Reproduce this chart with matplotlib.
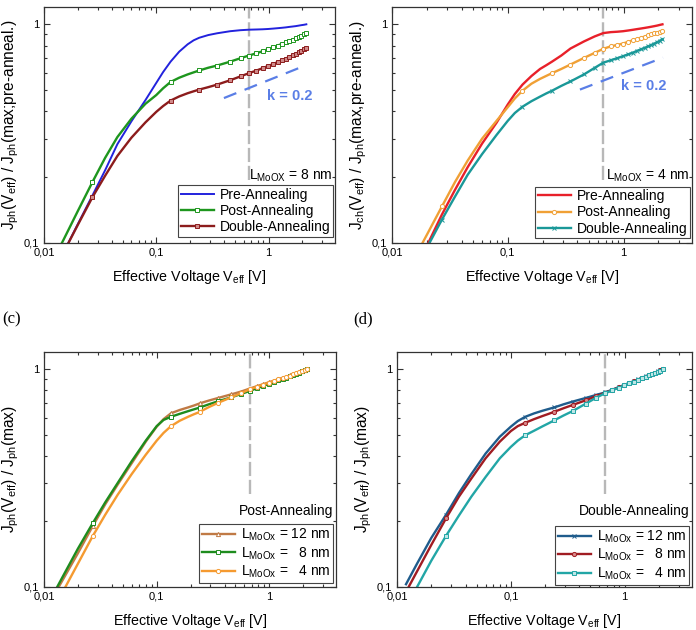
import matplotlib
matplotlib.use("Agg")
import matplotlib.pyplot as plt
from matplotlib.ticker import FixedLocator, FixedFormatter, LogLocator, NullFormatter

plt.rcParams['font.family'] = ['Liberation Sans', 'DejaVu Sans']
plt.rcParams['mathtext.fontset'] = 'custom'
plt.rcParams['mathtext.rm'] = 'Liberation Sans'
plt.rcParams['mathtext.it'] = 'Liberation Sans:italic'

# effective voltage grid (V), markers sit on the measured steps
v_eff = [0.012, 0.015, 0.02, 0.027, 0.035, 0.045, 0.06, 0.08, 0.1, 0.115,
         0.134, 0.16, 0.19, 0.215, 0.241, 0.29, 0.348, 0.455, 0.562, 0.669,
         0.776, 0.883, 0.99, 1.097, 1.204, 1.311, 1.418, 1.525, 1.632, 1.739,
         1.846, 1.953, 2.06, 2.167]
mark_idx = [3, 10, 14] + list(range(16, 34))

# (a) L_MoOx = 8 nm
a_pre = [0.072, 0.091, 0.122, 0.165, 0.215, 0.283, 0.36, 0.45, 0.54, 0.605,
         0.675, 0.75, 0.81, 0.845, 0.868, 0.893, 0.91, 0.93, 0.94, 0.945,
         0.947, 0.949, 0.952, 0.956, 0.96, 0.964, 0.968, 0.973, 0.977, 0.981,
         0.986, 0.991, 0.995, 1.0]
a_post = [0.083, 0.104, 0.14, 0.19, 0.245, 0.305, 0.37, 0.433, 0.475, 0.51,
          0.545, 0.57, 0.59, 0.603, 0.615, 0.633, 0.648, 0.675, 0.70, 0.72,
          0.737, 0.753, 0.77, 0.785, 0.80, 0.813, 0.826, 0.838, 0.85, 0.862,
          0.875, 0.888, 0.90, 0.912]
a_double = [0.072, 0.091, 0.121, 0.162, 0.203, 0.25, 0.303, 0.356, 0.398, 0.423,
            0.448, 0.468, 0.484, 0.494, 0.503, 0.516, 0.53, 0.555, 0.578, 0.598,
            0.614, 0.63, 0.645, 0.658, 0.672, 0.685, 0.697, 0.709, 0.721, 0.733,
            0.745, 0.757, 0.768, 0.78]

# (b) L_MoOx = 4 nm
b_pre = [0.056, 0.071, 0.097, 0.135, 0.175, 0.222, 0.285, 0.355, 0.43, 0.48,
         0.53, 0.58, 0.625, 0.65, 0.675, 0.72, 0.775, 0.835, 0.88, 0.912,
         0.921, 0.925, 0.93, 0.937, 0.944, 0.951, 0.957, 0.963, 0.969, 0.975,
         0.981, 0.987, 0.994, 1.0]
b_post = [0.066, 0.082, 0.109, 0.147, 0.19, 0.238, 0.30, 0.362, 0.418, 0.458,
          0.497, 0.535, 0.563, 0.581, 0.598, 0.625, 0.655, 0.702, 0.74, 0.773,
          0.793, 0.805, 0.817, 0.832, 0.845, 0.857, 0.868, 0.879, 0.889, 0.899,
          0.908, 0.917, 0.926, 0.935]
b_double = [0.056, 0.071, 0.095, 0.128, 0.163, 0.205, 0.255, 0.312, 0.362, 0.393,
            0.42, 0.445, 0.467, 0.483, 0.497, 0.523, 0.548, 0.59, 0.632, 0.668,
            0.685, 0.70, 0.715, 0.729, 0.742, 0.757, 0.769, 0.781, 0.793, 0.805,
            0.817, 0.829, 0.841, 0.853]

# (c) post-annealing, normalised
c_12nm = [0.09, 0.11, 0.143, 0.19, 0.24, 0.295, 0.37, 0.465, 0.545, 0.59,
          0.628, 0.65, 0.668, 0.682, 0.697, 0.718, 0.737, 0.766, 0.79, 0.815,
          0.836, 0.854, 0.871, 0.886, 0.90, 0.913, 0.925, 0.937, 0.948, 0.958,
          0.968, 0.979, 0.99, 1.0]
c_8nm = [0.092, 0.114, 0.15, 0.196, 0.245, 0.30, 0.378, 0.47, 0.548, 0.585,
         0.605, 0.624, 0.642, 0.655, 0.667, 0.69, 0.712, 0.742, 0.77, 0.795,
         0.818, 0.838, 0.857, 0.873, 0.888, 0.902, 0.916, 0.929, 0.941, 0.953,
         0.965, 0.977, 0.989, 1.0]
c_4nm = [0.078, 0.097, 0.128, 0.171, 0.215, 0.265, 0.33, 0.405, 0.47, 0.51,
         0.548, 0.58, 0.605, 0.622, 0.637, 0.67, 0.70, 0.742, 0.777, 0.808,
         0.831, 0.851, 0.868, 0.884, 0.898, 0.911, 0.923, 0.935, 0.946, 0.957,
         0.968, 0.979, 0.99, 1.0]

# (d) double-annealing, normalised
d_12nm = [0.103, 0.128, 0.168, 0.215, 0.27, 0.33, 0.41, 0.49, 0.545, 0.578,
          0.605, 0.627, 0.645, 0.657, 0.668, 0.69, 0.71, 0.738, 0.762, 0.782,
          0.805, 0.827, 0.847, 0.865, 0.882, 0.898, 0.913, 0.928, 0.941, 0.953,
          0.966, 0.977, 0.988, 1.0]
d_8nm = [0.095, 0.118, 0.156, 0.207, 0.26, 0.315, 0.39, 0.465, 0.52, 0.548,
         0.568, 0.59, 0.61, 0.624, 0.638, 0.662, 0.685, 0.72, 0.752, 0.778,
         0.803, 0.825, 0.845, 0.863, 0.88, 0.896, 0.911, 0.926, 0.939, 0.951,
         0.964, 0.975, 0.987, 1.0]
d_4nm = [0.08, 0.10, 0.132, 0.172, 0.213, 0.26, 0.32, 0.39, 0.44, 0.47,
         0.498, 0.522, 0.547, 0.565, 0.583, 0.613, 0.642, 0.695, 0.74, 0.775,
         0.80, 0.822, 0.843, 0.861, 0.878, 0.894, 0.909, 0.924, 0.937, 0.95,
         0.963, 0.974, 0.986, 1.0]

# slope guide k = 0.2 and the gray marker voltage
k_a_x, k_a_y = [0.40, 2.15], [0.46, 0.65]
k_b_x, k_b_y = [0.42, 2.19], [0.503, 0.704]
v_line = 0.67

x_ticks = [0.01, 0.1, 1]
x_labels = ['0,01', '0,1', '1']
y_ticks = [0.1, 1]
y_labels = ['0,1', '1']

fig = plt.figure(figsize=(6.96, 6.3), dpi=100)
W, H = 696.0, 630.0


def make_ax(l, r, t, b):
    ax = fig.add_axes([l / W, 1 - b / H, (r - l) / W, (b - t) / H])
    ax.set_xscale('log')
    ax.set_yscale('log')
    ax.set_xlim(0.01, 3.9)
    ax.set_ylim(0.1, 1.2)
    ax.xaxis.set_major_locator(FixedLocator(x_ticks))
    ax.xaxis.set_major_formatter(FixedFormatter(x_labels))
    ax.yaxis.set_major_locator(FixedLocator(y_ticks))
    ax.yaxis.set_major_formatter(FixedFormatter(y_labels))
    ax.xaxis.set_minor_locator(LogLocator(base=10, subs=range(2, 10)))
    ax.yaxis.set_minor_locator(LogLocator(base=10, subs=range(2, 10)))
    ax.xaxis.set_minor_formatter(NullFormatter())
    ax.yaxis.set_minor_formatter(NullFormatter())
    ax.tick_params(which='both', direction='in', top=True, right=True,
                   labelsize=8, color='#333333', width=0.8)
    ax.tick_params(which='major', length=4.5)
    ax.tick_params(which='minor', length=2.5)
    for s in ax.spines.values():
        s.set_color('#333333')
        s.set_linewidth(0.9)
    ax.set_xlabel(r'Effective Voltage V$_{\rm eff}$ [V]', fontsize=10.3, labelpad=7)
    return ax


def legend(ax, loc_xy):
    lg = ax.legend(loc='lower right', bbox_to_anchor=loc_xy, fontsize=10,
                   numpoints=1, handlelength=2.4, labelspacing=0.15,
                   borderpad=0.2, handletextpad=0.4, borderaxespad=0,
                   fancybox=False, framealpha=1, edgecolor='#444444')
    lg.get_frame().set_linewidth(0.8)
    return lg


kw_dash = dict(color='#b8b8b8', lw=1.7, ls=(0, (6, 1.6)), zorder=1)
mk = dict(ms=3.0, mew=0.7, markevery=mark_idx)

# ---- (a)
ax = make_ax(44, 335, 7, 243)
ax.plot([v_line, v_line], [0.195, 1.2], **kw_dash)
ax.plot(v_eff, a_pre, color='#2222dd', lw=1.4, label='Pre-Annealing')
ax.plot(v_eff, a_post, color='#1e961e', lw=1.7, marker='s', mfc='white',
        label='Post-Annealing', **mk)
ax.plot(v_eff, a_double, color='#8c1c1c', lw=1.7, marker='s', mfc='#d08a8a',
        label='Double-Annealing', **mk)
ax.plot(k_a_x, k_a_y, color='#5a7ee6', lw=1.6, ls=(0, (6, 4)))
ax.text(0.97, 0.47, 'k = 0.2', color='#5a7ee6', fontsize=10.5, fontweight='bold',
        ha='left', va='center')
ax.text(0.993, 0.285, r'L$_{\rm MoOX}$ = 8 nm', transform=ax.transAxes, fontsize=10,
        ha='right', va='center')
ax.set_ylabel(r'J$_{\rm ph}$(V$_{\rm eff}$) / J$_{\rm ph}$(max;pre-anneal.)', fontsize=11.2,
              labelpad=2)
legend(ax, (0.993, 0.025))

# ---- (b)
ax = make_ax(392, 692, 7, 243)
ax.plot([v_line, v_line], [0.195, 1.2], **kw_dash)
ax.plot(v_eff, b_pre, color='#e8202a', lw=1.7, label='Pre-Annealing')
ax.plot(v_eff, b_post, color='#f0a035', lw=1.7, marker='o', mfc='white',
        label='Post-Annealing', **mk)
ax.plot(v_eff, b_double, color='#1a9898', lw=1.7, marker='x',
        label='Double-Annealing', **mk)
ax.plot(k_b_x, k_b_y, color='#5a7ee6', lw=1.6, ls=(0, (6, 4)))
ax.text(0.95, 0.52, 'k = 0.2', color='#5a7ee6', fontsize=10.5, fontweight='bold',
        ha='left', va='center')
ax.text(0.993, 0.285, r'L$_{\rm MoOX}$ = 4 nm', transform=ax.transAxes, fontsize=10,
        ha='right', va='center')
ax.set_ylabel(r'J$_{\rm ch}$(V$_{\rm eff}$) / J$_{\rm ph}$(max,pre-anneal.)', fontsize=11.2,
              labelpad=2)
legend(ax, (0.993, 0.02))

# ---- (c)
ax = make_ax(44, 336, 352, 587)
ax.plot([v_line, v_line], [0.267, 1.2], **kw_dash)
ax.plot(v_eff, c_12nm, color='#c07a45', lw=1.7, marker='^', mfc='white',
        label=r'L$_{\rm MoOx}$ = 12 nm', **mk)
ax.plot(v_eff, c_8nm, color='#1e8c1e', lw=1.7, marker='s', mfc='white',
        label=r'L$_{\rm MoOx}$ =   8 nm', **mk)
ax.plot(v_eff, c_4nm, color='#f59a30', lw=1.7, marker='o', mfc='white',
        label=r'L$_{\rm MoOx}$ =   4 nm', **mk)
ax.text(0.99, 0.323, 'Post-Annealing', transform=ax.transAxes, fontsize=10,
        ha='right', va='center')
ax.set_ylabel(r'J$_{\rm ph}$(V$_{\rm eff}$) / J$_{\rm ph}$(max)', fontsize=11.2, labelpad=2)
legend(ax, (0.99, 0.017))

# ---- (d)
ax = make_ax(397, 692, 352, 587)
ax.plot([v_line, v_line], [0.267, 1.2], **kw_dash)
ax.plot(v_eff, d_12nm, color='#1f5c8c', lw=1.7, marker='x',
        label=r'L$_{\rm MoOx}$ = 12 nm', **mk)
ax.plot(v_eff, d_8nm, color='#a01c22', lw=1.7, marker='o', mfc='#d88a8a',
        label=r'L$_{\rm MoOx}$ =   8 nm', **mk)
ax.plot(v_eff, d_4nm, color='#22a6a6', lw=1.7, marker='s', mfc='#bfe6e6',
        label=r'L$_{\rm MoOx}$ =   4 nm', **mk)
ax.text(0.99, 0.323, 'Double-Annealing', transform=ax.transAxes, fontsize=10,
        ha='right', va='center')
ax.set_ylabel(r'J$_{\rm ph}$(V$_{\rm eff}$) / J$_{\rm ph}$(max)', fontsize=11.2, labelpad=2)
legend(ax, (0.99, 0.01))

fig.text(2 / W, 1 - 319 / H, '(c)', family='Liberation Serif', fontsize=12, va='center')
fig.text(353 / W, 1 - 319 / H, '(d)', family='Liberation Serif', fontsize=12, va='center')

fig.savefig('out.png', dpi=100)
